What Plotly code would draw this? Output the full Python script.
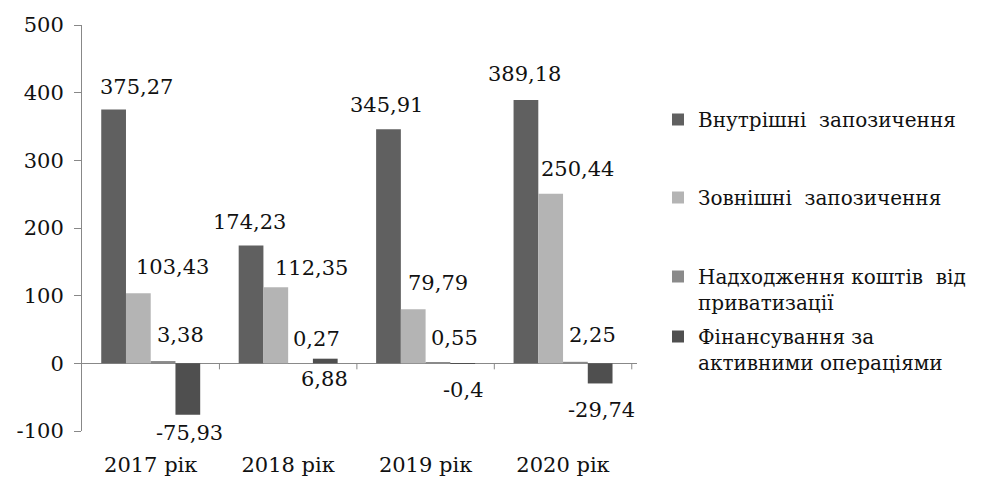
import plotly.graph_objects as go

categories = ["2017 рік", "2018 рік", "2019 рік", "2020 рік"]
series_names = [
    "Внутрішні  запозичення",
    "Зовнішні  запозичення",
    "Надходження коштів  від<br>приватизації",
    "Фінансування за<br>активними операціями",
]
internal = [375.27, 174.23, 345.91, 389.18]
external = [103.43, 112.35, 79.79, 250.44]
privatization = [3.38, 0.27, 0.55, 2.25]
active_ops = [-75.93, 6.88, -0.4, -29.74]
series_values = [internal, external, privatization, active_ops]

y_tick_vals = [-100, 0, 100, 200, 300, 400, 500]
y_tick_text = ["-100", "0", "100", "200", "300", "400", "500"]

# styling
colors = ["#606060", "#b4b4b4", "#8a8a8a", "#4f4f4f"]
FONT = "DejaVu Serif"
# page shows the figure with an 8px body margin, so the figure is 8px smaller
W, H = 976, 469
ML, MR, MT, MB = 74, 347, 17, 46
BARGAP = 0.28
# label offsets (px) relative to bar center / bar end
label_dx = [[23, -1, -2, -1], [34, 36, 25, 27], [17, 16, 16, 17], [1, -1, 0, 1]]
label_dy = [[22, 23, 24, 26], [26, 19, 26, 25], [26, 24, 25, 27], [-18, -20, -26, -27]]
legend_top_px = [92, 170, 249, 309]

fig = go.Figure()
legend_ids = ["legend", "legend2", "legend3", "legend4"]
for i, (name, vals) in enumerate(zip(series_names, series_values)):
    fig.add_trace(go.Bar(
        x=categories, y=vals, name=name,
        marker=dict(color=colors[i], line=dict(width=0)),
        legend=legend_ids[i],
    ))

plot_w = W - ML - MR
cat_w = plot_w / len(categories)
bar_w = cat_w * (1 - BARGAP) / 4

for i, vals in enumerate(series_values):
    for j, v in enumerate(vals):
        fig.add_annotation(
            x=categories[j], y=v, xref="x", yref="y",
            text=str(v).replace(".", ","),
            showarrow=False,
            xshift=(i - 1.5) * bar_w + label_dx[i][j],
            yshift=label_dy[i][j],
            xanchor="center", yanchor="middle",
            font=dict(family=FONT, size=21, color="#111111"),
        )

# small tick marks on the zero line at category boundaries
for k in range(1, len(categories) + 1):
    fig.add_shape(
        type="line", xref="x", yref="y",
        x0=k - 0.5, x1=k - 0.5,
        ysizemode="pixel", yanchor=0, y0=0, y1=-6,
        line=dict(color="#888888", width=1),
    )

legend_common = dict(
    xref="container", yref="container",
    x=650 / W, xanchor="left", yanchor="top",
    bgcolor="rgba(0,0,0,0)",
    font=dict(family=FONT, size=20, color="#111111"),
    valign="top", itemsizing="constant",
)
layout_legends = {}
for i, lid in enumerate(legend_ids):
    layout_legends[lid] = dict(legend_common, y=1 - legend_top_px[i] / H)

fig.update_layout(
    width=W, height=H,
    margin=dict(l=ML, r=MR, t=MT, b=MB),
    paper_bgcolor="white", plot_bgcolor="white",
    barmode="group", bargap=BARGAP, bargroupgap=0,
    showlegend=True,
    font=dict(family=FONT, size=21, color="#111111"),
    xaxis=dict(
        showline=False, showgrid=False, ticks="",
        tickfont=dict(family=FONT, size=21, color="#111111"),
        ticklabelstandoff=19, zeroline=False, automargin=False,
    ),
    yaxis=dict(
        range=[-100, 500], tickvals=y_tick_vals, ticktext=y_tick_text,
        showline=True, linecolor="#888888", linewidth=1,
        ticks="outside", ticklen=7, tickcolor="#888888",
        showgrid=False, zeroline=True, zerolinecolor="#888888", zerolinewidth=1,
        tickfont=dict(family=FONT, size=21, color="#111111"),
        ticklabelstandoff=6, automargin=False,
    ),
    **layout_legends,
)

fig.write_html("out.html")
